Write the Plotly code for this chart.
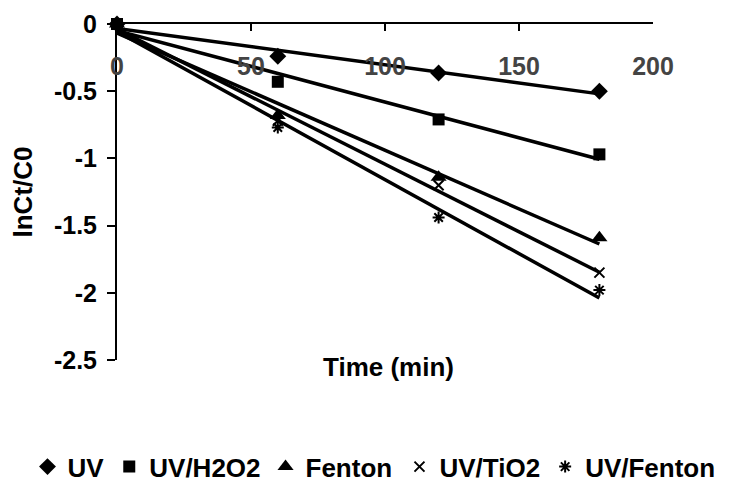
import numpy as np
import plotly.graph_objects as go

time_min = [0, 60, 120, 180]
uv = [0, -0.24, -0.365, -0.50]
uv_h2o2 = [0, -0.43, -0.71, -0.97]
fenton = [0, -0.68, -1.14, -1.59]
uv_tio2 = [0, -0.72, -1.20, -1.85]
uv_fenton = [0, -0.77, -1.44, -1.98]

series_names = ["UV", "UV/H2O2", "Fenton", "UV/TiO2", "UV/Fenton"]
series_values = [uv, uv_h2o2, fenton, uv_tio2, uv_fenton]
x_ticks = [0, 50, 100, 150, 200]
y_ticks = [0, -0.5, -1, -1.5, -2, -2.5]
y_tick_labels = ["0", "-0.5", "-1", "-1.5", "-2", "-2.5"]

symbols = ["diamond", "square", "triangle-up", "x-thin-open", "asterisk-open"]
sizes = [13, 12, 14, 10, 10]
legend_ids = ["legend", "legend", "legend", "legend2", "legend2"]

FONT = "Arial, Liberation Sans, sans-serif"

fig = go.Figure()

# trendlines (linear fits), drawn first
for vals in series_values:
    m, b = np.polyfit(time_min, vals, 1)
    xs = [time_min[0], time_min[-1]]
    fig.add_trace(go.Scatter(
        x=xs, y=[m * x + b for x in xs], mode="lines",
        line=dict(color="black", width=3.5), showlegend=False,
        hoverinfo="skip", cliponaxis=False))

for name, vals, sym, sz, lg in zip(series_names, series_values, symbols, sizes, legend_ids):
    thin = sym.endswith("open")
    fig.add_trace(go.Scatter(
        x=time_min, y=vals, mode="markers", name=name, legend=lg,
        marker=dict(symbol=sym, size=sz, color="black",
                    line=dict(color="black", width=2 if thin else 0)),
        cliponaxis=False))

legend_font = dict(size=26, family=FONT, weight="bold")
fig.update_layout(
    template="none",
    width=734, height=500,
    margin=dict(l=109, r=89, t=16, b=148, autoexpand=False),
    paper_bgcolor="white", plot_bgcolor="white",
    font=dict(family=FONT, color="black", size=24, weight="bold"),
    showlegend=True,
    legend=dict(orientation="h", x=-0.167, xanchor="left", y=-0.3176,
                yanchor="middle", font=legend_font,
                itemwidth=30, tracegroupgap=0, bgcolor="rgba(0,0,0,0)"),
    legend2=dict(orientation="h", x=0.527, xanchor="left", y=-0.3176,
                 yanchor="middle", font=legend_font,
                 itemwidth=30, tracegroupgap=0, bgcolor="rgba(0,0,0,0)"),
    xaxis=dict(range=[0, 200], side="top", tickvals=x_ticks,
               ticks="inside", ticklen=7, tickwidth=2, tickcolor="black",
               ticklabelposition="inside", ticklabelstandoff=28,
               ticklabeloverflow="allow", automargin=False,
               showline=True, linecolor="black", linewidth=2,
               showgrid=False, zeroline=False,
               tickfont=dict(size=25, family=FONT, weight="bold")),
    yaxis=dict(range=[-2.5, 0], tickvals=y_ticks, ticktext=y_tick_labels,
               ticks="outside", ticklen=8, tickwidth=2, tickcolor="black",
               ticklabelstandoff=5,
               showline=True, linecolor="black", linewidth=2,
               showgrid=False, zeroline=False, automargin=False,
               tickfont=dict(size=25, family=FONT, weight="bold"),
               title=dict(text="lnCt/C0", standoff=15,
                          font=dict(size=26, family=FONT, weight="bold"))),
    annotations=[dict(text="Time (min)", xref="paper", yref="paper",
                      x=0.506, y=-0.02, xanchor="center", yanchor="middle",
                      showarrow=False,
                      font=dict(size=26, family=FONT, weight="bold"))],
)

fig.write_html("out.html")
